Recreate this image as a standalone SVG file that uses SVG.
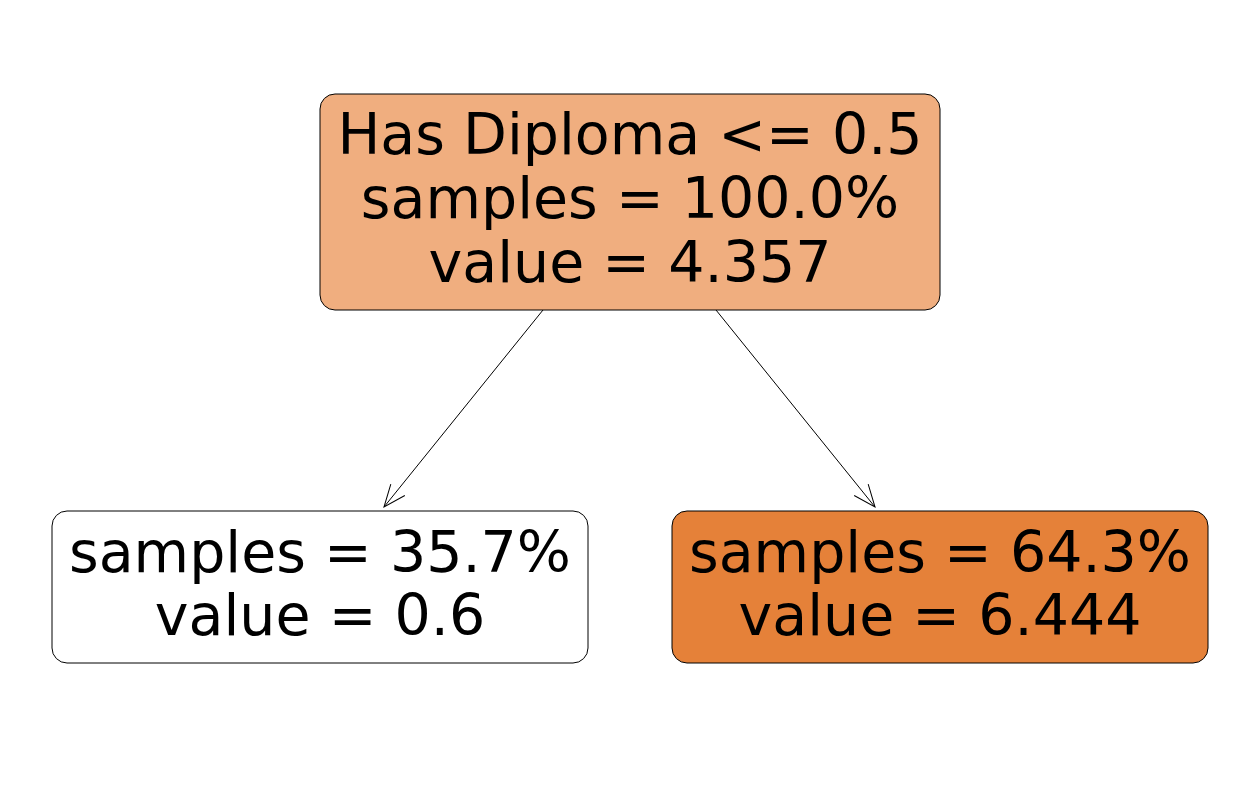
<svg xmlns="http://www.w3.org/2000/svg" width="1260" height="790" viewBox="0 0 1260 790">
<defs>
<style>
.box{stroke:#000;stroke-width:1}
.t{font-family:"DejaVu Sans",sans-serif;font-size:57px;text-anchor:middle;fill:#000}
.e{stroke:#000;stroke-width:1;fill:none}
</style>
<marker id="arr" markerUnits="userSpaceOnUse" markerWidth="30" markerHeight="30" refX="0" refY="0" viewBox="-25 -12 30 24" orient="auto" overflow="visible">
<path d="M-22,-9 L0,0 L-22,9" fill="none" stroke="#000" stroke-width="1"/>
</marker>
</defs>
<rect width="1260" height="790" fill="#fff"/>
<g id="connectors">
<line class="e" x1="543" y1="310" x2="384" y2="507" marker-end="url(#arr)"/>
<line class="e" x1="716" y1="310" x2="875" y2="507" marker-end="url(#arr)"/>
</g>
<g id="root">
<rect class="box" x="320" y="94" width="620" height="216" rx="15" fill="#f0ae7f"/>
<text class="t" x="630" y="154">Has Diploma &lt;= 0.5</text>
<text class="t" x="630" y="218">samples = 100.0%</text>
<text class="t" x="630" y="282">value = 4.357</text>
</g>
<g id="left">
<rect class="box" x="52" y="511" width="536" height="152" rx="15" fill="#ffffff"/>
<text class="t" x="320" y="572">samples = 35.7%</text>
<text class="t" x="320" y="635">value = 0.6</text>
</g>
<g id="right">
<rect class="box" x="672" y="511" width="536" height="152" rx="15" fill="#e58139"/>
<text class="t" x="940" y="572">samples = 64.3%</text>
<text class="t" x="940" y="635">value = 6.444</text>
</g>
</svg>
